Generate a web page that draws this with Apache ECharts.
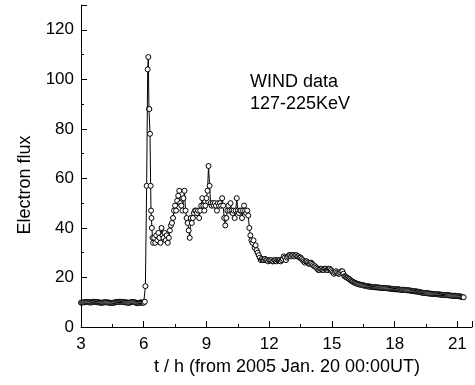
<!DOCTYPE html>
<html>
<head>
<meta charset="utf-8">
<script src="https://cdn.jsdelivr.net/npm/echarts@6/dist/echarts.min.js"></script>
<style>
  html, body { margin: 0; padding: 0; background: #fff; }
  #app { width: 475px; height: 385px; }
</style>
</head>
<body>
<div id="app"></div>
<script>
// quiet time before the event
var baseHours = [
  3.00, 3.05, 3.10, 3.15, 3.20, 3.25, 3.30, 3.35, 3.40, 3.45,
  3.50, 3.55, 3.60, 3.65, 3.70, 3.75, 3.80, 3.85, 3.90, 3.95,
  4.00, 4.05, 4.10, 4.15, 4.20, 4.25, 4.30, 4.35, 4.40, 4.45,
  4.50, 4.55, 4.60, 4.65, 4.70, 4.75, 4.80, 4.85, 4.90, 4.95,
  5.00, 5.05, 5.10, 5.15, 5.20, 5.25, 5.30, 5.35, 5.40, 5.45,
  5.50, 5.55, 5.60, 5.65, 5.70, 5.75, 5.80, 5.85, 5.90, 5.95,
  6.00
];
var baseFlux = [
  9.8, 9.9, 9.9, 10.0, 10.0, 10.1, 10.1, 10.0, 10.0, 9.9,
  9.9, 10.1, 10.2, 10.1, 10.1, 10.0, 10.0, 9.9, 9.9, 9.8,
  9.8, 9.9, 9.9, 10.0, 10.0, 9.9, 9.9, 9.8, 9.8, 9.7,
  9.7, 9.8, 9.9, 10.0, 10.0, 10.1, 10.1, 10.2, 10.2, 10.1,
  10.1, 10.0, 10.0, 9.9, 9.9, 9.8, 9.8, 9.9, 10.0, 10.1,
  10.1, 10.0, 9.9, 9.7, 9.6, 9.7, 9.8, 9.9, 9.9, 9.8,
  9.8
];

// onset spike
var spikeHours = [6.05, 6.08, 6.14, 6.19, 6.22, 6.25, 6.27, 6.30, 6.33, 6.35, 6.37, 6.39, 6.42];
var spikeFlux = [10.2, 16.5, 57, 104, 109, 88, 88, 78, 57, 47, 44, 40, 36];

// plateau 6.45 - 11.6 h
var midHours = [
  6.45, 6.50, 6.55, 6.60, 6.65, 6.70, 6.75, 6.80, 6.85, 6.90, 6.95,
  7.00, 7.05, 7.10, 7.15, 7.20, 7.25, 7.30, 7.35, 7.40, 7.45,
  7.50, 7.55, 7.60, 7.65, 7.70, 7.75, 7.80, 7.85, 7.90, 7.95,
  8.00, 8.05, 8.10, 8.15, 8.20, 8.25, 8.30, 8.35, 8.40, 8.45,
  8.50, 8.55, 8.60, 8.65, 8.70, 8.75, 8.80, 8.85, 8.90, 8.95,
  9.00, 9.05, 9.10, 9.15, 9.20, 9.25, 9.30, 9.35, 9.40, 9.45,
  9.50, 9.55, 9.60, 9.65, 9.70, 9.75, 9.80, 9.85, 9.90, 9.95,
  10.00, 10.05, 10.10, 10.15, 10.20, 10.25, 10.30, 10.35, 10.40, 10.45,
  10.50, 10.55, 10.60, 10.65, 10.70, 10.75, 10.80, 10.85, 10.90, 10.95,
  11.00, 11.05, 11.10, 11.15, 11.20, 11.25, 11.30, 11.35, 11.40, 11.45,
  11.50, 11.55, 11.60
];
var midFlux = [
  34, 36, 34, 37, 35, 38, 36, 34, 40, 37, 36,
  38, 35, 37, 34, 36, 39, 41, 42, 44, 47,
  49, 47, 51, 53, 55, 50, 49, 47, 52, 55,
  47, 44, 42, 39, 36, 44, 42, 44, 46, 47,
  47, 46, 47, 44, 47, 49, 52, 49, 47, 49,
  52, 55, 65, 57, 50, 49, 50, 49, 50, 49,
  47, 50, 49, 50, 49, 52, 49, 44, 41, 44,
  47, 49, 47, 50, 47, 46, 47, 44, 47, 52,
  47, 46, 47, 47, 44, 47, 49, 47, 46, 47,
  45, 40, 37, 35, 34, 35, 32, 33, 31, 30,
  29, 28, 27
];

// slow decay 11.65 - 21.3 h
var tailHours = [
  11.65, 11.70, 11.75, 11.80, 11.85, 11.90, 11.95, 12.00, 12.05, 12.10,
  12.15, 12.20, 12.25, 12.30, 12.35, 12.40, 12.45, 12.50, 12.55, 12.60,
  12.65, 12.70, 12.75, 12.80, 12.85, 12.90, 12.95, 13.00, 13.05, 13.10,
  13.15, 13.20, 13.25, 13.30, 13.35, 13.40, 13.45, 13.50, 13.55, 13.60,
  13.65, 13.70, 13.75, 13.80, 13.85, 13.90, 13.95, 14.00, 14.05, 14.10,
  14.15, 14.20, 14.25, 14.30, 14.35, 14.40, 14.45, 14.50, 14.55, 14.60,
  14.65, 14.70, 14.75, 14.80, 14.85, 14.90, 14.95, 15.00, 15.05, 15.10,
  15.15, 15.20, 15.25, 15.30, 15.35, 15.40, 15.45, 15.50, 15.55, 15.60,
  15.65, 15.70, 15.75, 15.80, 15.85, 15.90, 15.95, 16.00, 16.05, 16.10,
  16.15, 16.20, 16.25, 16.30, 16.35, 16.40, 16.45, 16.50, 16.55, 16.60,
  16.65, 16.70, 16.75, 16.80, 16.85, 16.90, 16.95, 17.00, 17.05, 17.10,
  17.15, 17.20, 17.25, 17.30, 17.35, 17.40, 17.45, 17.50, 17.55, 17.60,
  17.65, 17.70, 17.75, 17.80, 17.85, 17.90, 17.95, 18.00, 18.05, 18.10,
  18.15, 18.20, 18.25, 18.30, 18.35, 18.40, 18.45, 18.50, 18.55, 18.60,
  18.65, 18.70, 18.75, 18.80, 18.85, 18.90, 18.95, 19.00, 19.05, 19.10,
  19.15, 19.20, 19.25, 19.30, 19.35, 19.40, 19.45, 19.50, 19.55, 19.60,
  19.65, 19.70, 19.75, 19.80, 19.85, 19.90, 19.95, 20.00, 20.05, 20.10,
  20.15, 20.20, 20.25, 20.30, 20.35, 20.40, 20.45, 20.50, 20.55, 20.60,
  20.65, 20.70, 20.75, 20.80, 20.85, 20.90, 20.95, 21.00, 21.05, 21.10,
  21.15, 21.20, 21.25, 21.30
];
var tailFlux = [
  27.5, 27, 27, 27.5, 27, 27, 26.5, 27, 27, 27,
  26.5, 26.5, 27, 27, 26.5, 27, 27, 27, 26.5, 27,
  27.5, 28.5, 28, 27, 28, 28.5, 29, 29, 28.5, 29,
  29, 28.5, 29, 29, 28.5, 28.5, 28, 28, 27.5, 27,
  26.5, 26, 26.5, 26.5, 26, 25.5, 25.5, 26, 25.5, 25,
  24.5, 24.5, 24, 23.5, 23, 23, 23.5, 23.5, 23, 23,
  23.5, 23.5, 23, 23, 23.5, 23.5, 23, 22.5, 22, 21.5,
  22, 22.5, 22, 21.5, 21.5, 22, 22.5, 22.5, 21.5, 20.5,
  20.3, 20, 19.8, 19.5, 19.2, 18.8, 18.5, 18.3, 18.0, 17.8,
  17.6, 17.5, 17.3, 17.2, 17.1, 17.0, 16.9, 16.8, 16.7, 16.6,
  16.5, 16.4, 16.4, 16.3, 16.3, 16.2, 16.2, 16.1, 16.1, 16.0,
  16.0, 16.0, 15.9, 15.9, 15.8, 15.8, 15.8, 15.8, 15.7, 15.7,
  15.6, 15.6, 15.5, 15.5, 15.4, 15.4, 15.3, 15.3, 15.2, 15.2,
  15.2, 15.2, 15.1, 15.0, 15.0, 15.1, 15.0, 14.9, 14.9, 14.8,
  14.8, 14.8, 14.7, 14.6, 14.5, 14.5, 14.4, 14.4, 14.3, 14.3,
  14.2, 14.1, 14.0, 13.9, 13.8, 13.8, 13.7, 13.7, 13.6, 13.6,
  13.5, 13.5, 13.4, 13.4, 13.3, 13.3, 13.3, 13.3, 13.2, 13.2,
  13.1, 13.1, 13.0, 13.0, 12.9, 12.9, 12.9, 12.9, 12.8, 12.8,
  12.7, 12.7, 12.6, 12.6, 12.6, 12.6, 12.5, 12.5, 12.4, 12.4,
  12.3, 12.2, 12.1, 12.0
];

var xTicks = [3, 6, 9, 12, 15, 18, 21];
var yTicks = [0, 20, 40, 60, 80, 100, 120];
var annotation = ['WIND data', '127-225KeV'];

var FONT = '"Liberation Sans", Arial, sans-serif';

var hours = baseHours.concat(spikeHours, midHours, tailHours);
var flux = baseFlux.concat(spikeFlux, midFlux, tailFlux);
var points = hours.map(function (t, i) { return [t, flux[i]]; });

var chart = echarts.init(document.getElementById('app'), null, { renderer: 'canvas' });

var axisCommon = {
  axisLine: { show: true, lineStyle: { color: '#000', width: 1 } },
  axisTick: { show: true, inside: true, length: 6, lineStyle: { color: '#000', width: 1 } },
  minorTick: { show: true, splitNumber: 2, length: 3, lineStyle: { color: '#000', width: 1 } },
  splitLine: { show: false },
  axisLabel: { color: '#000', fontSize: 17, fontFamily: FONT }
};

var option = {
  animation: false,
  backgroundColor: '#fff',
  grid: { left: 81, right: 3, top: 5, bottom: 58, containLabel: false },
  xAxis: Object.assign({}, axisCommon, {
    type: 'value',
    min: xTicks[0],
    max: 21.7,
    interval: 3,
    axisLabel: Object.assign({}, axisCommon.axisLabel, { margin: 9, showMaxLabel: false })
  }),
  yAxis: Object.assign({}, axisCommon, {
    type: 'value',
    min: yTicks[0],
    max: 130,
    interval: 20,
    axisLabel: Object.assign({}, axisCommon.axisLabel, { margin: 7, showMaxLabel: false })
  }),
  graphic: [
    {
      type: 'text', x: 25, y: 185, rotation: Math.PI / 2,
      style: { text: 'Electron flux', fill: '#000', font: '18px ' + FONT, align: 'center', verticalAlign: 'middle' }
    },
    {
      type: 'text', x: 287, y: 367,
      style: { text: 't / h (from 2005 Jan. 20 00:00UT)', fill: '#000', font: '18px ' + FONT, align: 'center', verticalAlign: 'middle' }
    },
    {
      type: 'text', x: 250, y: 82,
      style: { text: annotation[0], fill: '#000', font: '18px ' + FONT, align: 'left', verticalAlign: 'middle' }
    },
    {
      type: 'text', x: 250, y: 104,
      style: { text: annotation[1], fill: '#000', font: '18px ' + FONT, align: 'left', verticalAlign: 'middle' }
    }
  ],
  series: [{
    type: 'line',
    data: points,
    symbol: 'circle',
    symbolSize: 5,
    showAllSymbol: true,
    lineStyle: { color: '#000', width: 1 },
    itemStyle: { color: '#fff', borderColor: '#000', borderWidth: 1 }
  }]
};

chart.setOption(option);
</script>
</body>
</html>
